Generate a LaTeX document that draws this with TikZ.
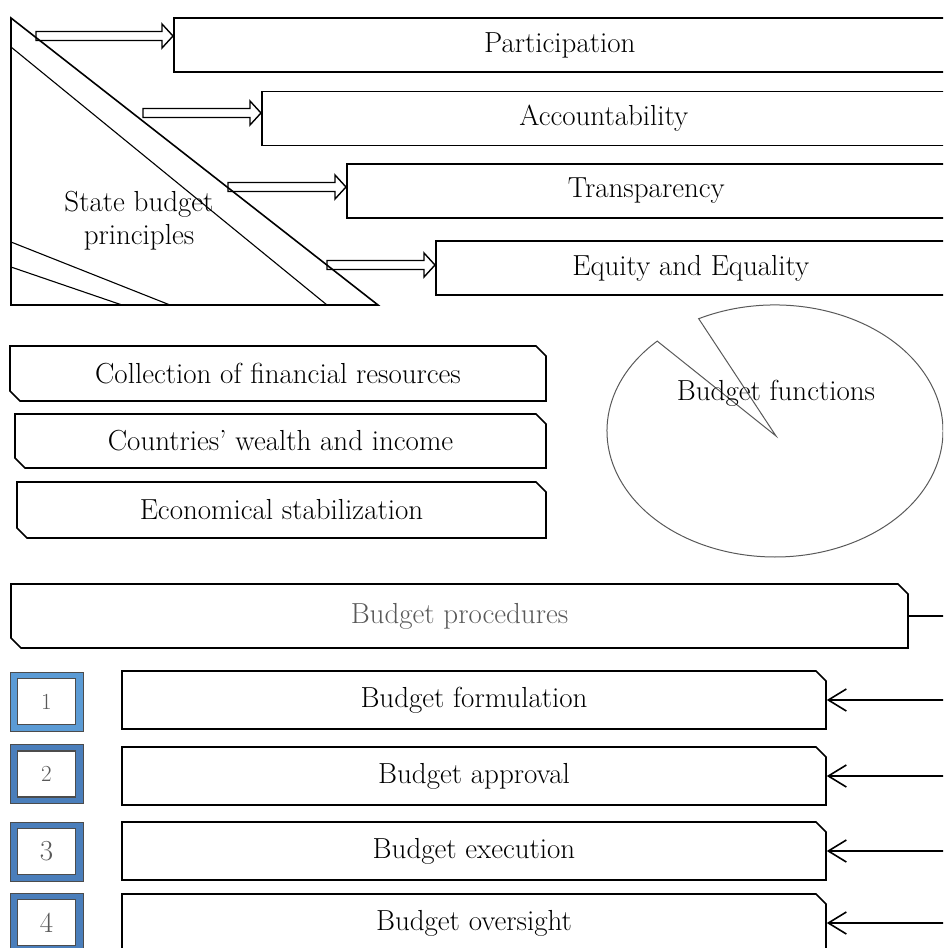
\documentclass[tikz,border=0pt]{standalone}
\usepackage{amsmath}
\usepackage{tikz}
\usetikzlibrary{shapes.misc}
\usetikzlibrary{arrows.meta, positioning, calc}

\definecolor{azulclaro}{RGB}{91,155,213}
\definecolor{azul}{RGB}{74,126,187}
\definecolor{gristexto}{RGB}{89,89,89}

\begin{document}
\begin{tikzpicture}[x=1pt, y=-1pt, font=\fontsize{29}{33}\selectfont]
	\tikzstyle{principio} = [draw, line width=1.6pt, rectangle, minimum height=54pt, anchor=west, inner sep=0pt]
	\tikzstyle{funcion} = [draw, line width=1.6pt, chamfered rectangle, chamfered rectangle corners={north east,south west}, chamfered rectangle xsep=5pt, chamfered rectangle ysep=5pt, inner sep=0pt]
	\tikzstyle{etapa} = [draw, line width=1.6pt, chamfered rectangle, chamfered rectangle corners=north east, chamfered rectangle xsep=5pt, chamfered rectangle ysep=5pt, minimum width=704pt, minimum height=58pt, inner sep=0pt]
	\tikzstyle{flechagorda} = [draw, line width=1.4pt, line join=miter, to path={let \p1=(\tikztostart), \p2=(\tikztotarget) in
		(\x1,\y1+4.5pt) -- (\x2-11pt,\y1+4.5pt) -- (\x2-11pt,\y1+12pt) -- (\x2,\y1)
		-- (\x2-11pt,\y1-12pt) -- (\x2-11pt,\y1-4.5pt) -- (\x1,\y1-4.5pt) -- cycle}]
	\tikzstyle{flecha} = [draw, line width=1.6pt, -{Straight Barb[length=18pt,width=22pt]}]
	\tikzstyle{numfuera} = [draw=black!70, line width=0.8pt, minimum width=73pt, minimum height=59pt]
	\tikzstyle{numdentro} = [draw=black!70, fill=white, line width=1.5pt, minimum width=58pt, minimum height=46pt, inner sep=0pt, text=gristexto]

	\useasboundingbox (0,0) rectangle (943,948);
	\clip (0,0) rectangle (943,948);

	% Triangulo de principios
	\draw[line width=1.6pt] (11,18) -- (11,305) -- (378,305) -- cycle;
	\draw[line width=1.1pt] (11,47) -- (327,305);
	\draw[line width=1.1pt] (11,242) -- (170,305);
	\draw[line width=1.1pt] (11,267) -- (122,305);
	\node[align=center] (principios) at (139,221) {State budget\\principles};

	% Principios
	\node[principio, minimum width=772pt] (participacion) at (173,45) {Participation};
	\node[principio, minimum width=684pt] (rendicion) at (261,118.5) {Accountability};
	\node[principio, minimum width=599pt] (transparencia) at (346,191) {Transparency};
	\node[principio, minimum width=510pt] (equidad) at (435,268) {Equity and Equality};

	% Flechas dobles
	\coordinate (c1) at (36,36);
	\coordinate (c2) at (143,113);
	\coordinate (c3) at (228,187);
	\coordinate (c4) at (327,265);
	\path[flechagorda] (c1) to (participacion.west |- c1);
	\path[flechagorda] (c2) to (rendicion.west |- c2);
	\path[flechagorda] (c3) to (transparencia.west |- c3);
	\path[flechagorda] (c4) to (equidad.west |- c4);

	% Funciones del presupuesto
	\node[funcion, minimum width=536pt, minimum height=55pt] (recaudacion) at (278,373.5) {Collection of financial resources};
	\node[funcion, minimum width=531pt, minimum height=54pt] (riqueza) at (280.5,441) {Countries' wealth and income};
	\node[funcion, minimum width=529pt, minimum height=56pt] (estabilizacion) at (281.5,510) {Economical stabilization};

	\coordinate (centro) at (776,436);
	\draw[gristexto, line width=1pt] (centro) -- (698.7,318.7) arc[start angle=117, end angle=-225.5, x radius=168pt, y radius=126pt] -- cycle;
	\node (funciones) at (776,393) {Budget functions};

	% Procedimientos
	\node[funcion, minimum width=897pt, minimum height=64pt, text=gristexto] (procedimientos) at (459.5,616) {Budget procedures};
	\coordinate (borde) at (945,616);
	\draw[line width=1.6pt] (procedimientos.east) -- (borde);

	\foreach \n/\y/\texto in {1/700/Budget formulation, 2/776/Budget approval, 3/851/Budget execution, 4/923/Budget oversight} {
		\node[etapa] (etapa\n) at (474,\y) {\texto};
		\coordinate (der\n) at (945,\y);
		\draw[flecha] (der\n) -- (etapa\n.east);
	}

	% Numeros
	\foreach \n/\y/\col/\tam in {1/701.5/azulclaro/23, 2/774/azul/23, 3/851.5/azul/29, 4/922.5/azul/29} {
		\node[numfuera, fill=\col] (num\n) at (46.5,\y) {};
		\node[numdentro, font=\fontsize{\tam}{\tam}\selectfont] (numtexto\n) at (num\n) {\n};
	}
\end{tikzpicture}
\end{document}
